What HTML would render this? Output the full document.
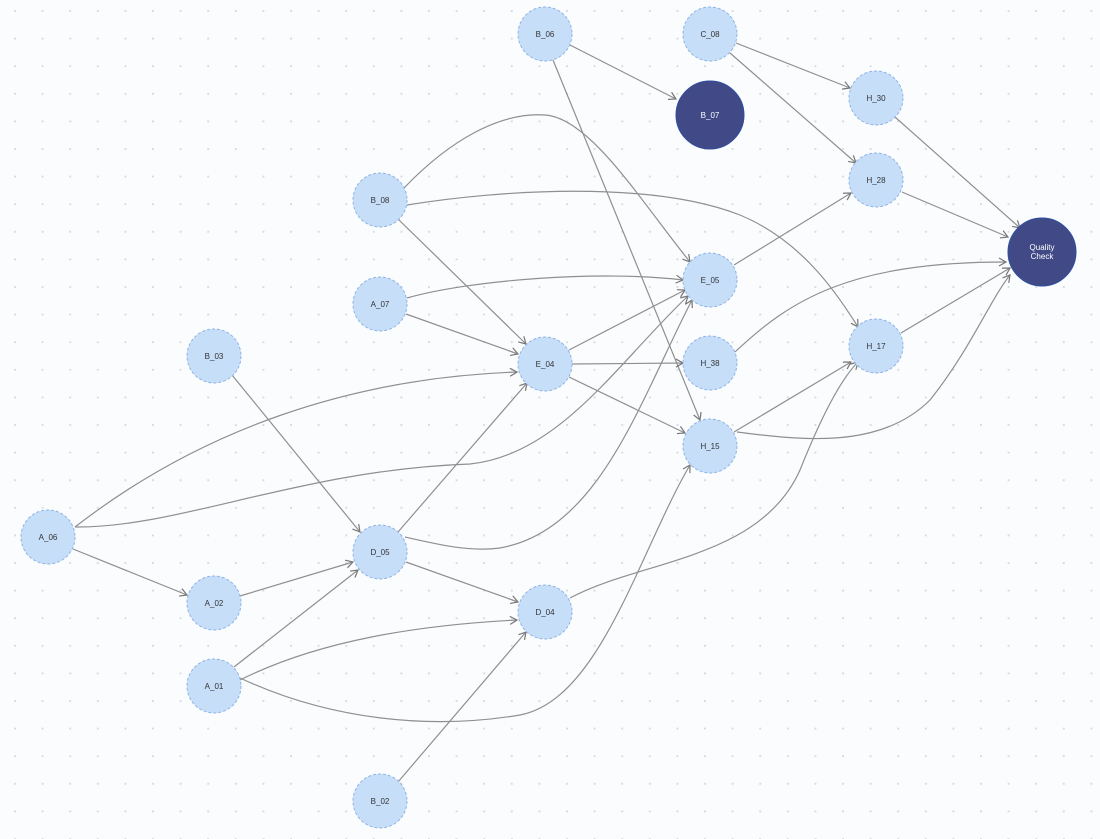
<!DOCTYPE html>
<html><head><meta charset="utf-8"><style>
html,body{margin:0;padding:0;background:#fbfcfe;}
svg{display:block;font-family:"Liberation Sans",sans-serif;}
</style></head><body>
<svg width="1100" height="839" viewBox="0 0 1100 839">
<defs>
<pattern id="g" x="14" y="10" width="27.6" height="27.6" patternUnits="userSpaceOnUse"><circle cx="1" cy="1" r="1.1" fill="#d7dbe2"/></pattern>
<marker id="a" markerWidth="10" markerHeight="10" refX="8" refY="5" orient="auto" markerUnits="userSpaceOnUse"><path d="M1 1 L8 5 L1 9" fill="none" stroke="#777" stroke-width="1.2"/></marker>
</defs>
<rect width="1100" height="839" fill="url(#g)"/>
<g fill="none" stroke="#8f8f8f" stroke-width="1.2" marker-end="url(#a)">
<path d="M570 45 L676 99"/>
<path d="M553 60 L700 420"/>
<path d="M736 43 L850 88"/>
<path d="M730 53 L856 163"/>
<path d="M895 117 L1020 228"/>
<path d="M902 192 L1008 237"/>
<path d="M404 188 C450 140,500 112,545 115 C590 118,640 200,690 262"/>
<path d="M407 205 C500 190,650 180,740 215 C800 240,835 290,858 327"/>
<path d="M398 219 L526 344"/>
<path d="M407 298 C470 280,600 270,683 280"/>
<path d="M406 314 L518 354"/>
<path d="M734 265 L851 193"/>
<path d="M569 350 L685 290"/>
<path d="M572 364 L683 363"/>
<path d="M569 377 L685 433"/>
<path d="M735 352 C790 300,850 262,1006 262"/>
<path d="M901 333 L1010 268"/>
<path d="M734 432 L851 362"/>
<path d="M737 432 C800 440,880 450,930 400 C970 350,990 300,1010 275"/>
<path d="M232 375 L360 532"/>
<path d="M75 527 C200 430,350 378,517 372"/>
<path d="M75 527 C180 528,300 470,470 464 C560 455,620 360,688 296"/>
<path d="M73 549 L187 595"/>
<path d="M240 596 L353 562"/>
<path d="M398 532 L527 383"/>
<path d="M405 537 C440 545,470 552,500 548 C600 530,640 400,692 300"/>
<path d="M406 562 L518 602"/>
<path d="M570 598 C640 560,760 560,800 470 C820 420,840 380,858 362"/>
<path d="M234 667 L358 570"/>
<path d="M240 680 C320 640,420 625,517 620"/>
<path d="M240 678 C330 720,430 730,520 715 C600 700,640 550,690 465"/>
<path d="M398 782 L526 632"/>
</g>
<g stroke="#8fb4e6" stroke-width="1" stroke-dasharray="3 2" fill="#c6def8">
<circle cx="545" cy="34" r="27"/><circle cx="710" cy="34" r="27"/>
<circle cx="876" cy="98" r="27"/><circle cx="876" cy="180" r="27"/>
<circle cx="380" cy="200" r="27"/><circle cx="710" cy="280" r="27"/>
<circle cx="380" cy="304" r="27"/><circle cx="214" cy="356" r="27"/>
<circle cx="545" cy="364" r="27"/><circle cx="710" cy="363" r="27"/>
<circle cx="876" cy="346" r="27"/><circle cx="710" cy="446" r="27"/>
<circle cx="48" cy="537" r="27"/><circle cx="380" cy="552" r="27"/>
<circle cx="214" cy="603" r="27"/><circle cx="545" cy="612" r="27"/>
<circle cx="214" cy="686" r="27"/><circle cx="380" cy="801" r="27"/>
</g>
<circle cx="710" cy="115" r="34" fill="#414a86" stroke="#2d4fa0"/>
<circle cx="1042" cy="252" r="34" fill="#414a86" stroke="#2d4fa0"/>
<g font-size="8" fill="#333" text-anchor="middle">
<text x="545" y="37">B_06</text><text x="710" y="37">C_08</text>
<text x="876" y="101">H_30</text><text x="876" y="183">H_28</text>
<text x="380" y="203">B_08</text><text x="710" y="283">E_05</text>
<text x="380" y="307">A_07</text><text x="214" y="359">B_03</text>
<text x="545" y="367">E_04</text><text x="710" y="366">H_38</text>
<text x="876" y="349">H_17</text><text x="710" y="449">H_15</text>
<text x="48" y="540">A_06</text><text x="380" y="555">D_05</text>
<text x="214" y="606">A_02</text><text x="545" y="615">D_04</text>
<text x="214" y="689">A_01</text><text x="380" y="804">B_02</text>
</g>
<g font-size="8" fill="#fff" text-anchor="middle">
<text x="710" y="118">B_07</text>
<text x="1042" y="250">Quality</text><text x="1042" y="259">Check</text>
</g>
</svg>
</body></html>
